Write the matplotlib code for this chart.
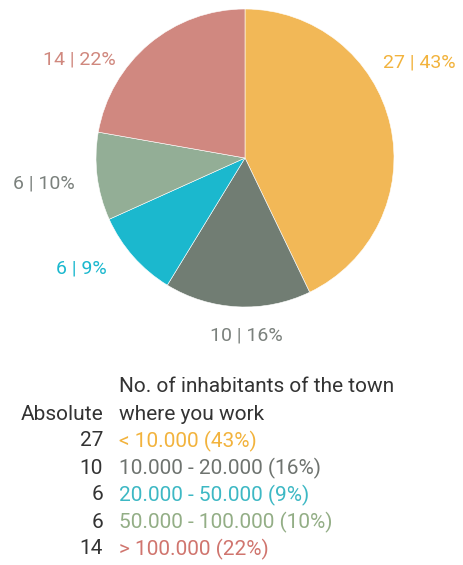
import matplotlib.pyplot as plt
import numpy as np

plt.rcParams['font.family'] = ['Roboto', 'DejaVu Sans']

# data
categories = ['< 10.000', '10.000 - 20.000', '20.000 - 50.000',
              '50.000 - 100.000', '> 100.000']
counts = [27, 10, 6, 6, 14]
percents = [43, 16, 9, 10, 22]
colors = ['#F2B857', '#717D73', '#1BB8CE', '#93AE96', '#D08880']
label_colors = ['#F2B33D', '#7B817D', '#1BB8CE', '#7B817D', '#D0887E']
legend_colors = ['#F2B33D', '#6E736F', '#3DB8C4', '#93AE86', '#D0756E']

fig = plt.figure(figsize=(4.63, 5.65), dpi=100)

# pie: center at (245,158) px, radius ~149 px
cx, cy, r = 245 / 463, 1 - 158 / 565, 149
ax = fig.add_axes([cx - r / 463, cy - r / 565, 2 * r / 463, 2 * r / 565])
wedges, _ = ax.pie(counts, colors=colors, startangle=90, counterclock=False,
                   wedgeprops=dict(edgecolor='white', linewidth=0.4))
ax.set_xlim(-1, 1)
ax.set_ylim(-1, 1)
ax.set_aspect('auto')

# label offsets (in pie radii)
label_xy = [(1.17, 0.64), (0.01, -1.19), (-1.10, -0.74), (-1.35, -0.17), (-1.11, 0.66)]
for (x, y), c, p, col in zip(label_xy, counts, percents, label_colors):
    ax.text(x, y, f'{c} | {p}%', color=col, fontsize=14,
            ha='center', va='center', clip_on=False)

# legend table
tc = '#333333'
fs = 15
fig.text(119 / 463, 1 - 386 / 565, 'No. of inhabitants of the town',
         fontsize=fs, color=tc, ha='left', va='center')
fig.text(119 / 463, 1 - 414 / 565, 'where you work',
         fontsize=fs, color=tc, ha='left', va='center')
fig.text(103 / 463, 1 - 414 / 565, 'Absolute',
         fontsize=fs, color=tc, ha='right', va='center')
for i, (cat, c, p, col) in enumerate(zip(categories, counts, percents, legend_colors)):
    yy = 1 - (441 + 27 * i) / 565
    fig.text(103 / 463, yy, str(c), fontsize=fs, color=tc, ha='right', va='center')
    fig.text(119 / 463, yy, f'{cat} ({p}%)', fontsize=fs, color=col,
             ha='left', va='center')

fig.savefig('out.png', dpi=100)
